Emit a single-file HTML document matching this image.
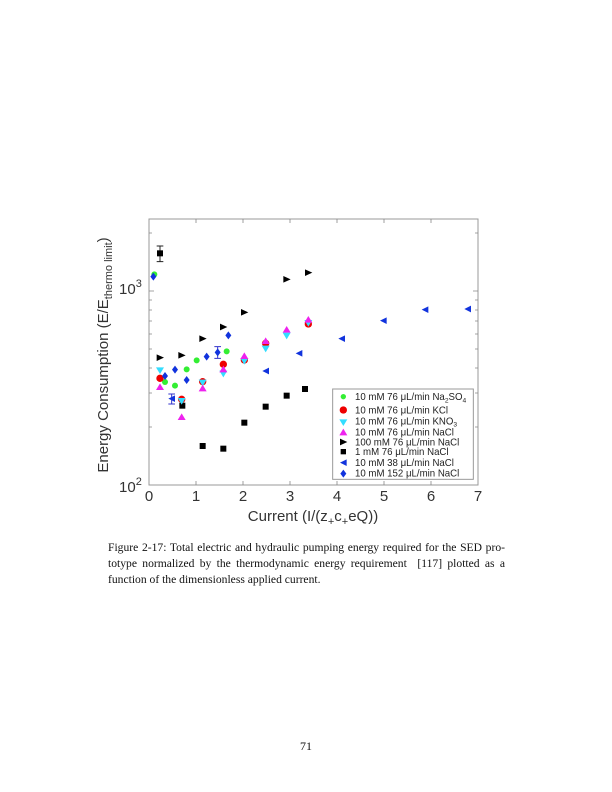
<!DOCTYPE html>
<html><head><meta charset="utf-8"><style>
body{margin:0;background:#fff;}
.pg{position:relative;width:612px;height:792px;overflow:hidden;background:#fff;}
.cap{position:absolute;left:108px;width:397px;font-family:"Liberation Serif",serif;font-size:11.6px;line-height:16px;text-align:justify;text-align-last:justify;color:#111;}
</style></head><body><div class="pg">
<svg width="612" height="792" style="position:absolute;left:0;top:0" font-family="Liberation Sans, DejaVu Sans, sans-serif">
<rect x="149" y="219" width="329" height="266" fill="none" stroke="#999" stroke-width="1"/>
<g stroke="#888" stroke-width="0.8">
<path d="M196,485v-4M243,485v-4M290,485v-4M337,485v-4M384,485v-4M431,485v-4M196,219v4M243,219v4M290,219v4M337,219v4M384,219v4M431,219v4"/>
<path d="M149,291h5M478,291h-5"/>
<path d="M149,427h3M149,393h3M149,368h3M149,349h3M149,334h3M149,321h3M149,310h3M149,300h3M149,233h3
M478,427h-3M478,393h-3M478,368h-3M478,349h-3M478,334h-3M478,321h-3M478,310h-3M478,300h-3M478,233h-3"/>
</g>
<g font-size="15" fill="#333" text-anchor="middle">
<text x="149" y="501">0</text><text x="196" y="501">1</text><text x="243" y="501">2</text><text x="290" y="501">3</text><text x="337" y="501">4</text><text x="384" y="501">5</text><text x="431" y="501">6</text><text x="478" y="501">7</text>
<text x="313" y="521">Current (I/(z<tspan font-size="11" dy="4">+</tspan><tspan dy="-4">c</tspan><tspan font-size="11" dy="4">+</tspan><tspan dy="-4">eQ))</tspan></text>
</g>
<g font-size="15" fill="#333">
<text x="119" y="492">10<tspan font-size="11" dy="-7">2</tspan></text>
<text x="119" y="294">10<tspan font-size="11" dy="-7">3</tspan></text>
<text transform="translate(108,355) rotate(-90)" text-anchor="middle">Energy Consumption (E/E<tspan font-size="11" dy="4">thermo limit</tspan><tspan dy="-4">)</tspan></text>
</g>
<g transform="translate(90,210) scale(0.33333)">
<g stroke="#222" stroke-width="3" fill="none">
<path d="M210,108v47M200,108h20M200,155h20"/>
<path d="M383,410v35M373,410h20M373,445h20" stroke="#33c"/>
<path d="M245,552v30M235,552h20M235,582h20" stroke="#33c"/>
</g>
<g fill="#000">
<rect x="201" y="121" width="18" height="18"/><rect x="268" y="578" width="18" height="18"/><rect x="329" y="699" width="18" height="18"/><rect x="391" y="707" width="18" height="18"/><rect x="454" y="629" width="18" height="18"/><rect x="518" y="581" width="18" height="18"/><rect x="581" y="548" width="18" height="18"/><rect x="636" y="528" width="18" height="18"/>
</g>
<g fill="#000">
<path d="M200,433l22,10l-22,10z"/><path d="M265,426l22,10l-22,10z"/><path d="M328,376l22,10l-22,10z"/><path d="M390,341l22,10l-22,10z"/><path d="M453,297l22,10l-22,10z"/><path d="M580,198l22,10l-22,10z"/><path d="M645,178l22,10l-22,10z"/>
</g>
<g fill="#3e3">
<circle cx="193" cy="193" r="9"/><circle cx="225" cy="516" r="9"/><circle cx="255" cy="527" r="9"/><circle cx="290" cy="478" r="9"/><circle cx="320" cy="451" r="9"/><circle cx="410" cy="424" r="9"/>
</g>
<g fill="#e00">
<circle cx="210" cy="505" r="11"/><circle cx="275" cy="568" r="11"/><circle cx="338" cy="515" r="11"/><circle cx="400" cy="463" r="11"/><circle cx="463" cy="450" r="11"/><circle cx="527" cy="400" r="11"/><circle cx="655" cy="342" r="11"/>
</g>
<g fill="#3df">
<path d="M198,472h24l-12,20z"/><path d="M263,564h24l-12,20z"/><path d="M326,509h24l-12,20z"/><path d="M388,482h24l-12,20z"/><path d="M451,444h24l-12,20z"/><path d="M515,407h24l-12,20z"/><path d="M578,368h24l-12,20z"/><path d="M643,330h24l-12,20z"/>
</g>
<g fill="#e2e">
<path d="M198,540h24l-12,-20z"/><path d="M263,630h24l-12,-20z"/><path d="M326,544h24l-12,-20z"/><path d="M388,487h24l-12,-20z"/><path d="M451,447h24l-12,-20z"/><path d="M515,402h24l-12,-20z"/><path d="M578,368h24l-12,-20z"/><path d="M643,338h24l-12,-20z"/>
</g>
<g fill="#13d">
<path d="M235,566l20,-10v20z"/><path d="M517,483l20,-10v20z"/><path d="M617,430l20,-10v20z"/><path d="M745,386l20,-10v20z"/><path d="M870,332l20,-10v20z"/><path d="M995,299l20,-10v20z"/><path d="M1123,297l20,-10v20z"/>
</g>
<g fill="#13d">
<path d="M190,188l9,12l-9,12l-9,-12z"/><path d="M225,486l9,12l-9,12l-9,-12z"/><path d="M255,467l9,12l-9,12l-9,-12z"/><path d="M290,498l9,12l-9,12l-9,-12z"/><path d="M350,428l9,12l-9,12l-9,-12z"/><path d="M383,415l9,12l-9,12l-9,-12z"/><path d="M415,364l9,12l-9,12l-9,-12z"/>
</g>
<rect x="728" y="537" width="422" height="271" fill="#fff" stroke="#999" stroke-width="3"/>
<g font-size="29" fill="#222">
<circle cx="760" cy="560" r="8" fill="#3e3"/><text x="795" y="570">10 mM 76 μL/min Na<tspan font-size="20" dy="7">2</tspan><tspan dy="-7">SO</tspan><tspan font-size="20" dy="7">4</tspan></text>
<circle cx="760" cy="600" r="11" fill="#e00"/><text x="795" y="610">10 mM 76 μL/min KCl</text>
<path d="M748,628h24l-12,20z" fill="#3df"/><text x="795" y="643">10 mM 76 μL/min KNO<tspan font-size="20" dy="7">3</tspan></text>
<path d="M748,676h24l-12,-20z" fill="#e2e"/><text x="795" y="677">10 mM 76 μL/min NaCl</text>
<path d="M750,686l22,10l-22,10z" fill="#000"/><text x="795" y="706">100 mM 76 μL/min NaCl</text>
<rect x="752" y="717" width="16" height="16" fill="#000"/><text x="795" y="735">1 mM 76 μL/min NaCl</text>
<path d="M750,758l20,-10v20z" fill="#13d"/><text x="795" y="768">10 mM 38 μL/min NaCl</text>
<path d="M760,779l9,12l-9,12l-9,-12z" fill="#13d"/><text x="795" y="800">10 mM 152 μL/min NaCl</text>
</g>
</g>
<text x="306" y="750" font-family="Liberation Serif, serif" font-size="12" text-anchor="middle" fill="#111">71</text>
</svg>
<div class="cap" style="top:540px">Figure 2-17: Total electric and hydraulic pumping energy required for the SED pro-</div>
<div class="cap" style="top:556px">totype normalized by the thermodynamic energy requirement &nbsp;[117] plotted as a</div>
<div class="cap" style="top:572px;text-align-last:left">function of the dimensionless applied current.</div>
</div></body></html>
